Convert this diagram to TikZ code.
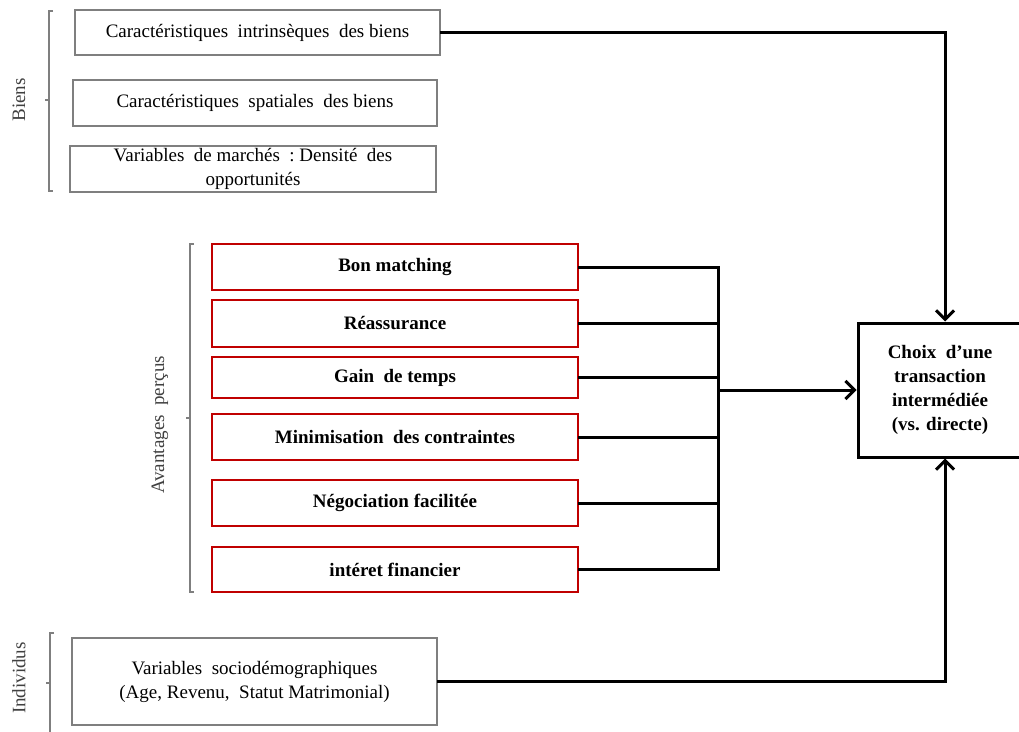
\documentclass[tikz,border=0pt]{standalone}
\usepackage{fontspec}
\setmainfont{Liberation Serif}
\usetikzlibrary{arrows.meta}
\definecolor{boxgray}{HTML}{7F7F7F}
\definecolor{boxred}{HTML}{C00000}
\begin{document}
\begin{tikzpicture}[x=1pt,y=-1pt,
  every node/.style={font=\fontsize{19}{24}\selectfont, inner sep=0pt, align=center},
  graybox/.style={draw=boxgray, line width=2.6pt, rectangle},
  redbox/.style={draw=boxred, line width=2.6pt, rectangle, minimum width=366pt, font=\fontsize{19}{24}\selectfont\bfseries},
  choicebox/.style={draw=black, line width=3pt, rectangle, font=\fontsize{19}{24}\selectfont\bfseries},
  conn/.style={draw=black, line width=3pt, line cap=rect},
  arr/.style={conn, -{Straight Barb[length=9pt,width=18pt]}},
  brace/.style={draw=boxgray, line width=1.3pt},
  side/.style={rotate=90, text=black!75}
]
\useasboundingbox (0,0) rectangle (1019,731);

% Biens group
\node[graybox, minimum width=365pt, minimum height=45pt] (b1) at (257.5,32.5) {Caractéristiques\ \ intrinsèques\ \ des biens};
\node[graybox, minimum width=364pt, minimum height=46pt] (b2) at (255,103) {Caractéristiques\ \ spatiales\ \ des biens};
\node[graybox, minimum width=366pt, minimum height=46pt] (b3) at (253,169) {Variables\ \ de marchés\ \ :\ Densité\ \ des\\opportunités};
\draw[brace] (53,11) -- (49,11) -- (49,191) -- (53,191);
\draw[brace] (49,100) -- (45,100);
\node[side] (lbiens) at (19,100) {Biens};

% Avantages group
\node[redbox, minimum height=46pt] (r1) at (395,267) {Bon matching};
\node[redbox, minimum height=47pt] (r2) at (395,323.5) {Réassurance};
\node[redbox, minimum height=41pt] (r3) at (395,377.5) {Gain\ \ de temps};
\node[redbox, minimum height=46pt] (r4) at (395,437) {Minimisation\ \ des contraintes};
\node[redbox, minimum height=46pt] (r5) at (395,503) {Négociation facilitée};
\node[redbox, minimum height=45pt] (r6) at (395,569.5) {intéret financier};
\draw[brace] (194,244) -- (190,244) -- (190,592) -- (194,592);
\draw[brace] (190,418) -- (186,418);
\node[side] (lav) at (160,425) {Avantages\ \ perçus};

% Individus group
\node[graybox, minimum width=365pt, minimum height=87pt] (s1) at (254.5,681.5) {Variables\ \ sociodémographiques\\(Age, Revenu,\ \ Statut Matrimonial)};
\draw[brace] (54,633) -- (50,633) -- (50,735);
\draw[brace] (50,683) -- (46,683);
\node[side] (lind) at (19,678) {Individus};

% Choice
\node[choicebox, minimum width=164pt, minimum height=134pt] (choice) at (940,390) {Choix\ \ d’une\\transaction\\intermédiée\\(vs. directe)};

% Connectors
\coordinate (bus) at (718,390);
\foreach \r in {r1,r2,r3,r4,r5,r6} {
  \draw[conn] (\r.east) -- (\r.east -| bus);
}
\draw[conn] (r1.east -| bus) -- (r6.east -| bus);
\draw[arr] (bus) -- (choice.west);
\draw[arr] (b1.east) -| ([xshift=5pt]choice.north);
\draw[arr] (s1.east) -| ([xshift=5pt]choice.south);
\end{tikzpicture}
\end{document}
